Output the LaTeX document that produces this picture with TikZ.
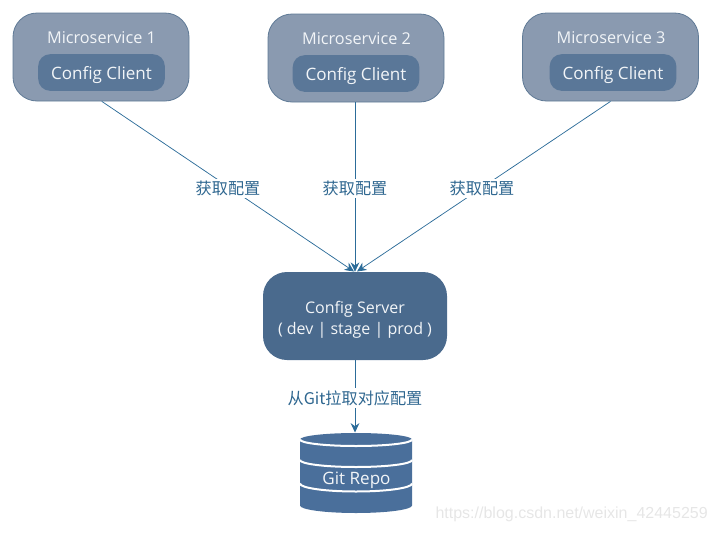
\documentclass[tikz,border=0pt]{standalone}
\usepackage{fontspec}
\setmainfont{Open Sans}
\newfontfamily\cjk{Noto Sans CJK SC}
\newfontfamily\wm{Liberation Sans}
\usetikzlibrary{arrows.meta}
\definecolor{outerfill}{HTML}{8A9AB0}
\definecolor{outerline}{HTML}{5F7A96}
\definecolor{innerfill}{HTML}{5A7798}
\definecolor{serverfill}{HTML}{4A6A8D}
\definecolor{repofill}{HTML}{4A6F9B}
\definecolor{linkcol}{HTML}{2C6C99}
\definecolor{labelcol}{HTML}{2F6790}
\definecolor{wmcol}{HTML}{E6E6E6}
\definecolor{boxtext}{HTML}{F2F5F8}
\tikzset{
  x=0.75pt,y=-0.75pt,
  outerbox/.style={draw=outerline,line width=0.6pt,fill=outerfill,rounded corners=18pt,minimum width=132pt,minimum height=66pt,inner sep=0pt},
  innerbox/.style={fill=innerfill,rounded corners=9pt,minimum width=95pt,minimum height=27.5pt,inner sep=0pt},
  innertext/.style={text=boxtext,inner sep=0pt,font=\fontsize{12.8pt}{15pt}\selectfont},
  servicetitle/.style={text=boxtext,inner sep=0pt,font=\fontsize{12.2pt}{15pt}\selectfont},
  serverbox/.style={fill=serverfill,rounded corners=18pt,minimum width=138pt,minimum height=66pt,inner sep=0pt},
  servertext/.style={text=boxtext,inner sep=0pt,align=center,font=\fontsize{12pt}{15.7pt}\selectfont},
  link/.style={draw=linkcol,line width=0.55pt},
  arrowlink/.style={link,-{Stealth[length=7pt,width=6.5pt]}},
  edgelabel/.style={fill=white,inner sep=1.5pt,text=labelcol,font=\cjk\fontsize{12.1pt}{14pt}\selectfont},
  band/.style={draw=white,line width=1.5pt},
}
\begin{document}
\begin{tikzpicture}
\useasboundingbox (0,0) rectangle (717,532);
% services
\node[outerbox] (ms1) at (101,57) {};
\node[outerbox] (ms2) at (356,58) {};
\node[outerbox] (ms3) at (610.5,57) {};
\node[servicetitle] (t1) at (101.5,38) {Microservice 1};
\node[servicetitle] (t2) at (356.5,39) {Microservice 2};
\node[servicetitle] (t3) at (611,38) {Microservice 3};
\node[innerbox] (c1) at (101.5,72.5) {};
\node[innerbox] (c2) at (356,73.5) {};
\node[innerbox] (c3) at (613,72.5) {};
\node[innertext] (ct1) at (101.5,74.8) {Config Client};
\node[innertext] (ct2) at (356,75.8) {Config Client};
\node[innertext] (ct3) at (613,74.8) {Config Client};
% server
\node[serverbox] (srv) at (355,316) {};
\node[servertext] (srvt) at (355,319.8) {Config Server\\( dev | stage | prod )};
% repo
\fill[repofill] (300,439.5) arc[start angle=180,end angle=360,x radius=56,y radius=6.5]
  -- (412,505.5) arc[start angle=0,end angle=180,x radius=56,y radius=7.5] -- cycle;
\draw[band] (300,439.5) arc[start angle=180,end angle=0,x radius=56,y radius=6.5];
\draw[band] (300,460) arc[start angle=180,end angle=0,x radius=56,y radius=7];
\draw[band] (300,483.5) arc[start angle=180,end angle=0,x radius=56,y radius=8];
\node[innertext] (repo) at (356.5,480.5) {Git Repo};
\coordinate (repotop) at (355,432.5);
\coordinate (srvin1) at (354,271.5);
\coordinate (srvin3) at (357,271.5);
% connectors
\draw[arrowlink] ([xshift=0.6pt]ms1.south) -- (srvin1);
\draw[arrowlink] (ms2.south -| srv.north) -- (srv.north);
\draw[arrowlink] (ms3.south) -- (srvin3);
\draw[arrowlink] (srv.south) -- (repotop);
\node[edgelabel] (l1) at (228,188.5) {获取配置};
\node[edgelabel] (l2) at (355,188.5) {获取配置};
\node[edgelabel] (l3) at (482,188.5) {获取配置};
\node[edgelabel] (l4) at (355,398) {从Git拉取对应配置};
% watermark
\node[text=wmcol,inner sep=0pt,anchor=east,font=\wm\fontsize{12pt}{15pt}\selectfont] (mark) at (708,514) {https://blog.csdn.net/weixin\_42445259};
\end{tikzpicture}
\end{document}
